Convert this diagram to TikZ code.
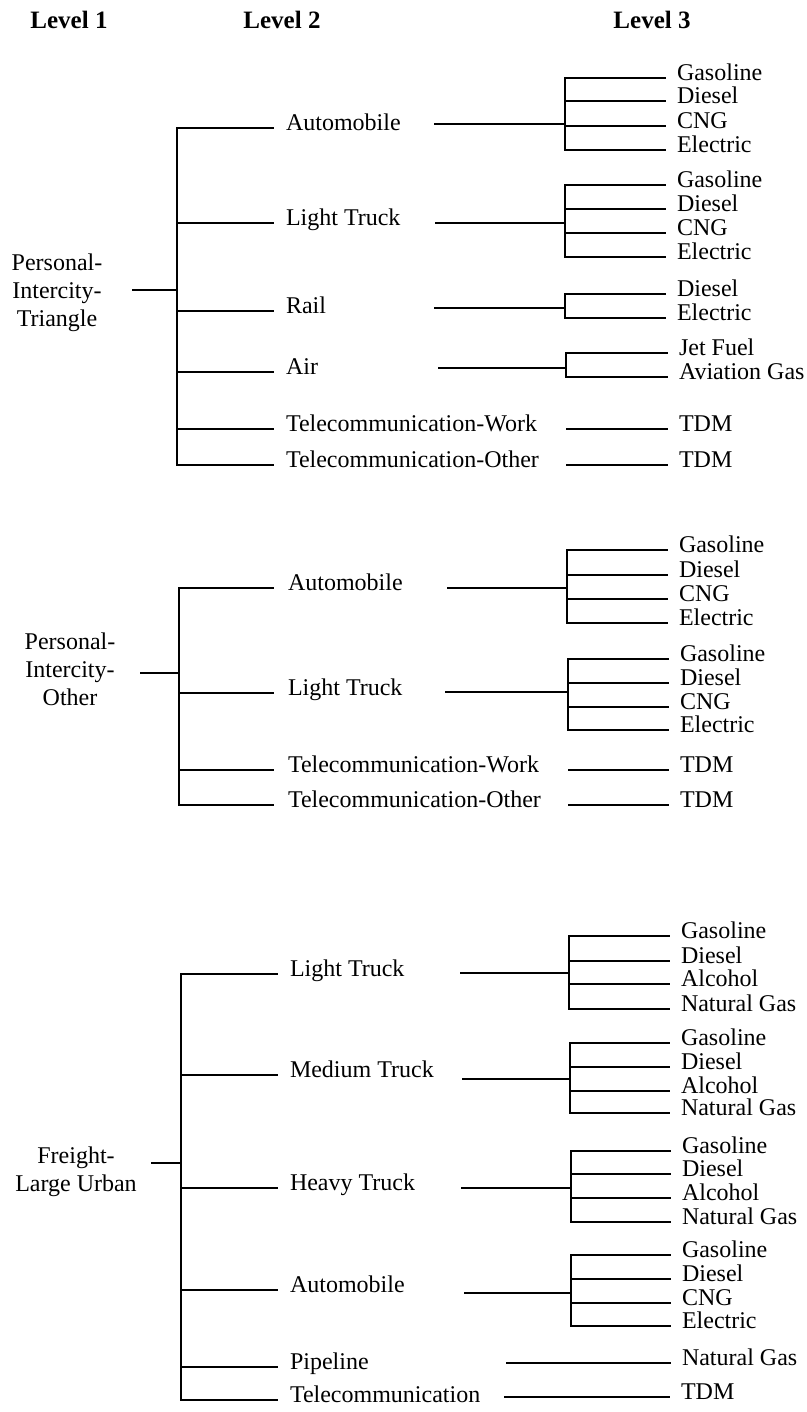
\documentclass[tikz,border=0pt]{standalone}
\usepackage{fontspec}
\setmainfont{Liberation Serif}
\tikzset{
  ln/.style={line width=2.7pt, line cap=butt, line join=miter},
  hdr/.style={font=\fontsize{25}{28}\selectfont\bfseries, inner sep=0, outer sep=0},
  lone/.style={font=\fontsize{24}{28}\selectfont, align=center, inner sep=0, outer sep=0},
  ltwo/.style={font=\fontsize{24}{28}\selectfont, anchor=mid west, inner xsep=#1, inner ysep=0, outer sep=0},
  ltwo/.default=12pt,
  leaf/.style={font=\fontsize{24}{28}\selectfont, anchor=mid west, inner xsep=11pt, inner ysep=0, outer sep=0}
}
\newcommand{\mkgroup}[6]{%
  \coordinate (#1r) at (#2,#4);
  \coordinate (#1f) at (#3,#4);
  \draw[ln] (#1r) -- (#1f);
  \foreach \yv/\lbl [count=\idx] in {#6} {
    \node[leaf] (#1l\idx) at (#5,\yv) {\lbl};
    \draw[ln] (#1f) |- (#1l\idx.mid west);
  }%
}
\begin{document}
\begin{tikzpicture}[x=1pt,y=-1pt]
\useasboundingbox (0,0) rectangle (806,1412);
% headers
\node[hdr] (h1) at (69,20) {Level 1};
\node[hdr] (h2) at (282,20) {Level 2};
\node[hdr] (h3) at (652,20) {Level 3};

% ---------- Section 1 ----------
\node[lone] (s1) at (57,293) {Personal-\\Intercity-\\Triangle};
\coordinate (s1a) at (132,290);
\coordinate (s1j) at (177,290);
\draw[ln] (s1a) -- (s1j);
\node[ltwo] (s1n1) at (274,128) {Automobile};
\node[ltwo] (s1n2) at (274,223) {Light Truck};
\node[ltwo] (s1n3) at (274,311) {Rail};
\node[ltwo] (s1n4) at (274,372) {Air};
\node[ltwo] (s1n5) at (274,429) {Telecommunication-Work};
\node[ltwo] (s1n6) at (274,465) {Telecommunication-Other};
\foreach \i in {1,...,6} \draw[ln] (s1j) |- (s1n\i.mid west);
\mkgroup{s1n1}{434}{565}{124}{666}{78/Gasoline,101/Diesel,126/CNG,150/Electric}
\mkgroup{s1n2}{435}{565}{223}{666}{185/Gasoline,209/Diesel,233/CNG,257/Electric}
\mkgroup{s1n3}{434}{565}{308}{666}{294/Diesel,318/Electric}
\mkgroup{s1n4}{438}{566}{368}{668}{353/Jet Fuel,377/Aviation Gas}
\coordinate (s1n5r) at (566,429);
\node[leaf] (s1n5l) at (668,429) {TDM};
\draw[ln] (s1n5r) -- (s1n5l.mid west);
\coordinate (s1n6r) at (566,465);
\node[leaf] (s1n6l) at (668,465) {TDM};
\draw[ln] (s1n6r) -- (s1n6l.mid west);

% ---------- Section 2 ----------
\node[lone] (s2) at (70,669) {Personal-\\Intercity-\\Other};
\coordinate (s2a) at (140,673);
\coordinate (s2j) at (179,673);
\draw[ln] (s2a) -- (s2j);
\node[ltwo=14pt] (s2n1) at (274,588) {Automobile};
\node[ltwo=14pt] (s2n2) at (274,693) {Light Truck};
\node[ltwo=14pt] (s2n3) at (274,770) {Telecommunication-Work};
\node[ltwo=14pt] (s2n4) at (274,805) {Telecommunication-Other};
\foreach \i in {1,...,4} \draw[ln] (s2j) |- (s2n\i.mid west);
\mkgroup{s2n1}{447}{567}{588}{668}{550/Gasoline,575/Diesel,599/CNG,623/Electric}
\mkgroup{s2n2}{445}{568}{692}{669}{659/Gasoline,683/Diesel,707/CNG,730/Electric}
\coordinate (s2n3r) at (568,770);
\node[leaf] (s2n3l) at (669,770) {TDM};
\draw[ln] (s2n3r) -- (s2n3l.mid west);
\coordinate (s2n4r) at (568,805);
\node[leaf] (s2n4l) at (669,805) {TDM};
\draw[ln] (s2n4r) -- (s2n4l.mid west);

% ---------- Section 3 ----------
\node[lone] (s3) at (76,1172) {Freight-\\Large Urban};
\coordinate (s3a) at (151,1163);
\coordinate (s3j) at (181,1163);
\draw[ln] (s3a) -- (s3j);
\node[ltwo] (s3n1) at (278,974) {Light Truck};
\node[ltwo] (s3n2) at (278,1075) {Medium Truck};
\node[ltwo] (s3n3) at (278,1188) {Heavy Truck};
\node[ltwo] (s3n4) at (278,1290) {Automobile};
\node[ltwo] (s3n5) at (278,1367) {Pipeline};
\node[ltwo] (s3n6) at (278,1400) {Telecommunication};
\foreach \i in {1,...,6} \draw[ln] (s3j) |- (s3n\i.mid west);
\mkgroup{s3n1}{460}{569}{973}{670}{936/Gasoline,961/Diesel,984/Alcohol,1009/Natural Gas}
\mkgroup{s3n2}{462}{570}{1079}{670}{1043/Gasoline,1067/Diesel,1091/Alcohol,1113/Natural Gas}
\mkgroup{s3n3}{461}{571}{1188}{671}{1151/Gasoline,1174/Diesel,1198/Alcohol,1222/Natural Gas}
\mkgroup{s3n4}{464}{571}{1293}{671}{1255/Gasoline,1279/Diesel,1303/CNG,1326/Electric}
\coordinate (s3n5r) at (506,1363);
\node[leaf] (s3n5l) at (671,1363) {Natural Gas};
\draw[ln] (s3n5r) -- (s3n5l.mid west);
\coordinate (s3n6r) at (504,1397);
\node[leaf] (s3n6l) at (670,1397) {TDM};
\draw[ln] (s3n6r) -- (s3n6l.mid west);
\end{tikzpicture}
\end{document}
